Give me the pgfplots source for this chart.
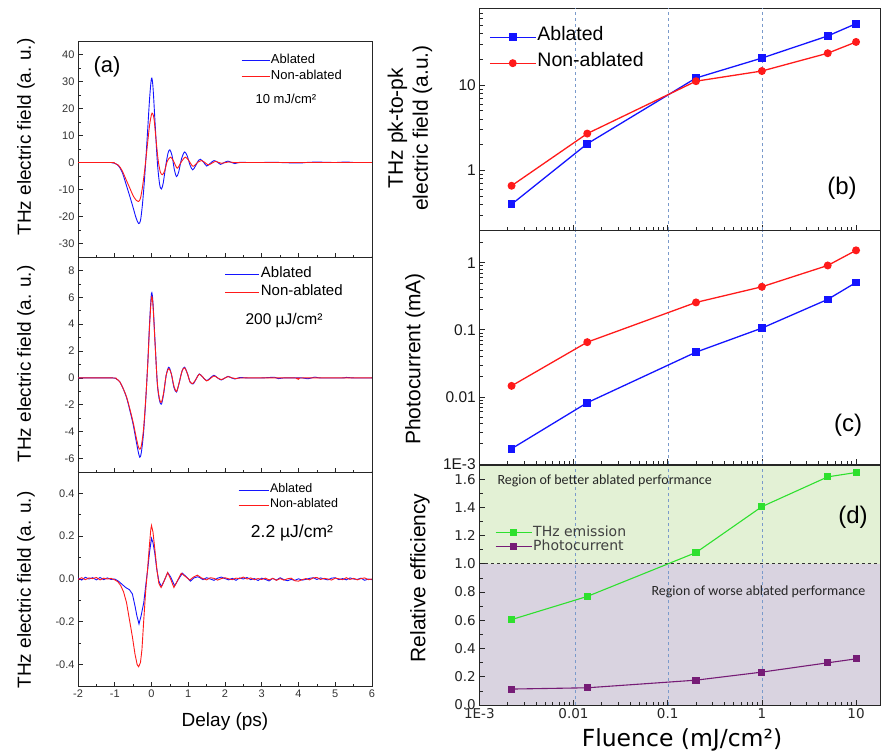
\documentclass[border=0pt]{standalone}
\usepackage{pgfplots}
\pgfplotsset{compat=1.18}
\usepackage{fontspec}
\setmainfont{Liberation Sans}
\newfontfamily\dejavu{DejaVu Sans}
\newfontfamily\carlito{Carlito}
\definecolor{cblue}{HTML}{1414FF}
\definecolor{cred}{HTML}{FF1A1A}
\definecolor{cgreen}{HTML}{2EE02E}
\definecolor{cpurple}{HTML}{761C76}
\definecolor{greenbg}{HTML}{E3F1D5}
\definecolor{purplebg}{HTML}{D9D3E0}
\definecolor{vdash}{HTML}{7A9ACB}
\newcommand\fsz[2]{\fontsize{#1bp}{#2bp}\selectfont}
\pgfplotsset{
  leftax/.style={scale only axis, width=294bp, xmin=-2, xmax=6, xtick={-2,...,6}, minor x tick num=1,
    tick align=inside, tick pos=left, axis line style={black!85, line width=0.8bp},
    major tick length=4.5bp, minor tick length=2.5bp, tick style={black!85, line width=0.7bp},
    tick label style={font=\fsz{11}{13}, text=black!80},
    /pgf/number format/assume math mode=true, legend cell align=left,
    legend style={draw=none, fill=none, inner sep=0pt}},
  rightax/.style={scale only axis, width=400.8bp, xmin=1e-3, xmax=18,
    xtick={0.001,0.01,0.1,1,10},
    minor xtick={0.002,0.003,0.004,0.005,0.006,0.007,0.008,0.009,0.02,0.03,0.04,0.05,0.06,0.07,0.08,0.09,0.2,0.3,0.4,0.5,0.6,0.7,0.8,0.9,2,3,4,5,6,7,8,9},
    tick align=inside, tick pos=left, axis line style={black!85, line width=0.8bp},
    major tick length=5.5bp, minor tick length=3.3bp, tick style={black!85, line width=0.7bp},
    tick label style={font=\fsz{15.5}{18}, text=black!90},
    /pgf/number format/assume math mode=true, legend cell align=left,
    legend style={draw=none, fill=none, inner sep=0pt}},
  nolabx/.style={xticklabel style={inner sep=0pt, outer sep=0pt, font=\fsz{1}{1}}},
  vline/.style={vdash, dashed, line width=0.8bp, forget plot},
  sab/.style={cblue, line width=1.3bp, mark=square*, mark size=3.2bp, mark options={solid}},
  snab/.style={cred, line width=1.3bp, mark=*, mark size=3.3bp, mark options={solid}},
  wb/.style={cblue, line width=0.9bp},
  wr/.style={cred, line width=0.9bp},
}
\begin{document}
\begin{tikzpicture}
\useasboundingbox (0,0) rectangle (881bp,-756bp);
\fill[white] (0,0) rectangle (881bp,-756bp);

% ---------- (a) top: 10 mJ/cm2 ----------
\begin{axis}[leftax, at={(78bp,-257bp)}, anchor=south west, height=216bp,
  ymin=-35, ymax=45, ytick={-30,-20,...,40}, minor y tick num=1, xticklabel={}, nolabx,
  legend style={at={(0.554,0.948)}, anchor=north west, font=\fsz{13}{15},
    nodes={inner sep=1bp, text height=10bp, text depth=4bp}},
  legend image code/.code={\draw[#1] (0bp,0bp) -- (28bp,0bp);}]
\addlegendimage{wb}
\addlegendentry{Ablated}
\addlegendimage{wr}
\addlegendentry{Non-ablated}
\addplot[wb, smooth, forget plot] coordinates {
(-2,0) (-1.5,0) (-1.1,0) (-1.0,-0.3) (-0.9,-1.2) (-0.8,-3.5) (-0.68,-8.6) (-0.58,-13) (-0.5,-16.7)
(-0.42,-20.5) (-0.35,-22.6) (-0.3,-21.5) (-0.25,-16) (-0.2,-8) (-0.15,2) (-0.1,13) (-0.05,24) (0,31.2)
(0.04,28) (0.1,14) (0.16,0) (0.22,-8) (0.27,-9.8) (0.32,-7.5) (0.39,-1) (0.45,3.5) (0.5,4.7) (0.56,2.5)
(0.62,-2.5) (0.68,-5.2) (0.74,-3.5) (0.82,1.5) (0.9,3.9) (0.97,2.5) (1.05,-1) (1.12,-2.7) (1.2,-1.2)
(1.28,0.8) (1.33,1.2) (1.42,0.1) (1.5,-1.3) (1.6,-0.3) (1.7,0.7) (1.8,0.1) (1.88,-0.7) (1.98,0)
(2.08,0.5) (2.18,0) (2.27,-0.4) (2.4,0.1) (2.6,0) (3.0,0) (3.3,0.1) (3.5,0) (4.0,-0.2) (4.2,0)
(4.5,0.15) (5,0) (5.3,0.2) (5.5,0) (6,0)};
\addplot[wr, smooth, forget plot] coordinates {
(-2,0) (-1.1,0) (-1.0,-0.3) (-0.9,-1.0) (-0.8,-3.0) (-0.68,-6.7) (-0.58,-9.8) (-0.5,-12.3) (-0.42,-13.9)
(-0.35,-14.4) (-0.3,-13.2) (-0.25,-9.5) (-0.2,-4.5) (-0.15,1.5) (-0.1,8) (-0.05,14) (0,17.8) (0.03,18.2)
(0.07,16) (0.12,9) (0.18,1) (0.24,-3.5) (0.3,-4.5) (0.36,-3) (0.43,0.5) (0.52,2.0) (0.6,0.5) (0.7,-2.1)
(0.8,0) (0.92,2.0) (1.02,0.6) (1.13,-1.4) (1.25,0) (1.36,0.7) (1.45,0) (1.55,-0.9) (1.65,-0.2)
(1.75,0.4) (1.9,-0.3) (2.1,0.2) (2.3,-0.1) (2.6,0) (6,0)};
\end{axis}

% ---------- (a) middle: 200 uJ/cm2 ----------
\begin{axis}[leftax, at={(78bp,-472bp)}, anchor=south west, height=215bp,
  ymin=-7, ymax=9, ytick={-6,-4,...,8}, minor y tick num=1, xticklabel={}, nolabx,
  legend style={at={(0.497,0.962)}, anchor=north west, font=\fsz{15}{17},
    nodes={inner sep=1bp, text height=11bp, text depth=5bp}},
  legend image code/.code={\draw[#1] (0bp,0bp) -- (34bp,0bp);}]
\addlegendimage{cblue, line width=1.6bp}
\addlegendentry{Ablated}
\addlegendimage{cred, line width=1.6bp}
\addlegendentry{Non-ablated}
\addplot[wb, smooth, forget plot] coordinates {
(-2,0) (-1.5,0) (-1.05,0) (-0.95,-0.08) (-0.86,-0.3) (-0.77,-0.8) (-0.68,-1.45) (-0.59,-2.4) (-0.5,-3.45)
(-0.41,-4.8) (-0.36,-5.5) (-0.32,-5.9) (-0.28,-5.6) (-0.22,-4.2) (-0.16,-1.8) (-0.1,1.2) (-0.05,4.2)
(0,6.3) (0.04,5.6) (0.1,2.5) (0.16,-0.5) (0.22,-1.7) (0.27,-1.95) (0.33,-1.2) (0.4,0.2) (0.47,0.8)
(0.54,0.3) (0.61,-0.7) (0.68,-1.05) (0.75,-0.4) (0.83,0.5) (0.9,0.8) (0.98,0.3) (1.05,-0.3) (1.13,-0.45)
(1.22,-0.05) (1.3,0.3) (1.4,0.05) (1.5,-0.2) (1.6,0) (1.7,0.2) (1.8,0) (1.9,-0.15) (2.0,0) (2.08,0.12)
(2.18,0) (2.27,-0.08) (2.4,0.03) (2.6,0) (3,0) (3.35,0.05) (3.45,-0.05) (3.6,0) (4.1,0) (4.25,-0.06)
(4.45,0.06) (4.6,0) (5.2,0) (5.3,0.04) (5.5,0) (6,0)};
\addplot[wr, smooth, forget plot] coordinates {
(-2,0) (-1.05,0) (-0.95,-0.08) (-0.86,-0.3) (-0.77,-0.8) (-0.68,-1.4) (-0.59,-2.3) (-0.5,-3.3)
(-0.41,-4.5) (-0.36,-5.1) (-0.32,-5.3) (-0.28,-5.1) (-0.22,-3.9) (-0.16,-1.7) (-0.1,1.1) (-0.05,4.0)
(0,6.0) (0.04,5.4) (0.1,2.4) (0.16,-0.4) (0.22,-1.6) (0.27,-1.8) (0.33,-1.1) (0.4,0.2) (0.47,0.7)
(0.54,0.3) (0.61,-0.6) (0.68,-1.0) (0.75,-0.4) (0.83,0.5) (0.9,0.75) (0.98,0.3) (1.05,-0.3) (1.13,-0.4)
(1.22,-0.05) (1.3,0.28) (1.4,0.05) (1.5,-0.22) (1.6,-0.05) (1.7,0.15) (1.8,0) (1.9,-0.12) (2.0,0)
(2.08,0.1) (2.2,0) (2.3,-0.05) (2.5,0) (3.9,0) (4.0,-0.1) (4.1,0) (6,0)};
\end{axis}

% ---------- (a) bottom: 2.2 uJ/cm2 ----------
\begin{axis}[leftax, at={(78bp,-686bp)}, anchor=south west, height=214bp,
  ymin=-0.5, ymax=0.5, ytick={-0.4,-0.2,...,0.41}, minor y tick num=1,
  yticklabel style={/pgf/number format/.cd, fixed, fixed zerofill, precision=1},
  legend style={at={(0.544,0.952)}, anchor=north west, font=\fsz{12.5}{15},
    nodes={inner sep=1bp, text height=9.5bp, text depth=3.5bp}},
  legend image code/.code={\draw[#1] (0bp,0bp) -- (30bp,0bp);}]
\addlegendimage{wb}
\addlegendentry{Ablated}
\addlegendimage{wr}
\addlegendentry{Non-ablated}
\addplot[wb, forget plot] coordinates {
(-2,0.005) (-1.9,-0.005) (-1.8,0.008) (-1.7,0.0) (-1.6,0.006) (-1.5,-0.004) (-1.4,0.007) (-1.3,-0.003)
(-1.2,0.005) (-1.1,-0.002) (-1.0,0.0) (-0.9,-0.01) (-0.8,-0.025) (-0.7,-0.04) (-0.6,-0.05) (-0.52,-0.07)
(-0.45,-0.125) (-0.4,-0.17) (-0.34,-0.21) (-0.28,-0.17) (-0.21,-0.11) (-0.15,-0.02) (-0.1,0.05)
(-0.05,0.13) (0,0.19) (0.04,0.17) (0.09,0.12) (0.14,0.05) (0.2,-0.01) (0.27,-0.035) (0.34,-0.01)
(0.44,0.03) (0.52,0.01) (0.63,-0.032) (0.72,-0.005) (0.84,0.027) (0.95,0.01) (1.06,-0.01) (1.15,0.005)
(1.25,0.01) (1.3,0.008) (1.4,-0.003) (1.5,0.006) (1.6,0.0) (1.7,-0.006) (1.8,0.004) (1.9,0.009)
(2.0,0.002) (2.1,-0.004) (2.2,0.003) (2.3,-0.006) (2.4,0.005) (2.5,0.0) (2.6,0.007) (2.7,-0.003)
(2.8,0.002) (2.9,-0.007) (3.0,0.004) (3.1,-0.002) (3.2,-0.009) (3.3,0.003) (3.4,-0.005) (3.5,0.006)
(3.6,-0.003) (3.7,-0.008) (3.8,-0.002) (3.9,-0.006) (4.0,0.001) (4.1,-0.005) (4.2,-0.002) (4.3,0.003)
(4.4,0.006) (4.5,-0.002) (4.6,0.005) (4.7,0.0) (4.8,-0.004) (4.9,0.004) (5.0,0.006) (5.1,-0.003)
(5.2,0.002) (5.3,-0.004) (5.4,0.005) (5.5,0.0) (5.6,-0.002) (5.7,0.004) (5.8,-0.006) (5.9,0.0) (6.0,-0.003)};
\addplot[wr, forget plot] coordinates {
(-2,-0.002) (-1.9,0.006) (-1.8,-0.003) (-1.7,0.005) (-1.6,0.002) (-1.5,0.007) (-1.4,-0.004) (-1.3,0.004)
(-1.2,0.0) (-1.1,0.003) (-1.0,-0.004) (-0.92,-0.012) (-0.84,-0.03) (-0.76,-0.06) (-0.68,-0.11)
(-0.6,-0.19) (-0.52,-0.27) (-0.45,-0.35) (-0.39,-0.4) (-0.35,-0.41) (-0.3,-0.39) (-0.26,-0.33)
(-0.21,-0.19) (-0.16,-0.06) (-0.11,0.04) (-0.06,0.15) (-0.02,0.23) (0,0.25) (0.04,0.22) (0.09,0.14)
(0.15,0.04) (0.2,-0.02) (0.26,-0.04) (0.33,-0.015) (0.44,0.03) (0.52,0.0) (0.61,-0.04) (0.7,-0.01)
(0.81,0.027) (0.92,0.012) (1.04,-0.005) (1.15,0.01) (1.25,0.018) (1.35,0.006) (1.4,0.002) (1.5,-0.004)
(1.6,0.006) (1.7,0.003) (1.8,-0.005) (1.9,0.002) (2.0,0.006) (2.1,0.001) (2.2,-0.003) (2.3,0.004)
(2.4,0.002) (2.5,0.009) (2.6,0.0) (2.7,0.005) (2.8,-0.003) (2.9,0.002) (3.0,-0.002) (3.1,0.004)
(3.2,-0.004) (3.3,0.003) (3.4,-0.006) (3.5,0.002) (3.6,-0.005) (3.7,0.001) (3.8,0.004) (3.9,-0.008)
(4.0,-0.01) (4.1,-0.003) (4.2,0.002) (4.3,-0.004) (4.4,0.005) (4.5,0.007) (4.6,-0.002) (4.7,0.003)
(4.8,0.0) (4.9,-0.005) (5.0,0.004) (5.1,0.001) (5.2,-0.003) (5.3,0.006) (5.4,-0.002) (5.5,0.003)
(5.6,-0.004) (5.7,0.002) (5.8,0.005) (5.9,-0.003) (6.0,0.0)};
\end{axis}

% ---------- (b) ----------
\begin{loglogaxis}[rightax, at={(479.3bp,-230bp)}, anchor=south west, height=222bp,
  ymin=0.2, ymax=80, ytick={1,10}, yticklabels={1,10}, xticklabels={,,,,}, nolabx,
  minor ytick={0.2,0.3,0.4,0.5,0.6,0.7,0.8,0.9,2,3,4,5,6,7,8,9,20,30,40,50,60,70,80},
  legend style={at={(0.024,0.928)}, anchor=north west, font=\fsz{19.5}{22},
    nodes={inner sep=1bp, text height=15bp, text depth=9bp}},
  legend image code/.code={\draw[mark repeat=2,mark phase=2,#1] plot coordinates {(0bp,0bp) (23bp,0bp) (46bp,0bp)};}]
\addplot[vline] coordinates {(0.0105,0.2) (0.0105,80)};
\addplot[vline] coordinates {(0.103,0.2) (0.103,80)};
\addplot[vline] coordinates {(1.02,0.2) (1.02,80)};
\addplot[sab] coordinates {(0.0022,0.40) (0.014,2.05) (0.2,12.1) (1,20.7) (5,37.6) (10,52.4)};
\addplot[snab] coordinates {(0.0022,0.66) (0.014,2.70) (0.2,11.1) (1,14.6) (5,23.6) (10,32.0)};
\legend{Ablated, Non-ablated}
\end{loglogaxis}

% ---------- (c) ----------
\begin{loglogaxis}[rightax, at={(479.3bp,-464bp)}, anchor=south west, height=233.3bp,
  ymin=1e-3, ymax=3, ytick={0.001,0.01,0.1,1}, yticklabels={1E-3,0.01,0.1,1}, xticklabels={,,,,}, nolabx,
  minor ytick={0.002,0.003,0.004,0.005,0.006,0.007,0.008,0.009,0.02,0.03,0.04,0.05,0.06,0.07,0.08,0.09,0.2,0.3,0.4,0.5,0.6,0.7,0.8,0.9,2,3}]
\addplot[vline] coordinates {(0.0105,1e-3) (0.0105,3)};
\addplot[vline] coordinates {(0.103,1e-3) (0.103,3)};
\addplot[vline] coordinates {(1.02,1e-3) (1.02,3)};
\addplot[sab] coordinates {(0.0022,0.00169) (0.014,0.0082) (0.2,0.0465) (1,0.106) (5,0.284) (10,0.508)};
\addplot[snab] coordinates {(0.0022,0.0146) (0.014,0.0655) (0.2,0.256) (1,0.438) (5,0.91) (10,1.53)};
\end{loglogaxis}

% ---------- (d) ----------
\begin{semilogxaxis}[rightax, axis on top, at={(479.3bp,-705bp)}, anchor=south west, height=240bp,
  ymin=0, ymax=1.7, ytick={0,0.2,...,1.61}, minor y tick num=1,
  xticklabels={1E-3,0.01,0.1,1,10},
  tick label style={font=\dejavu\fsz{13.5}{16}, text=black!85},
  yticklabel style={/pgf/number format/.cd, fixed, fixed zerofill, precision=1},
  legend style={at={(0.039,0.752)}, anchor=north west, font=\dejavu\fsz{14}{16}, text=black!75,
    nodes={inner sep=1bp, text height=10.5bp, text depth=2.2bp}},
  legend image code/.code={\draw[mark repeat=2,mark phase=2,#1] plot coordinates {(0bp,0bp) (18bp,0bp) (36bp,0bp)};}]
\fill[greenbg] (axis cs:0.001,1) rectangle (axis cs:18,1.7);
\fill[purplebg] (axis cs:0.001,0) rectangle (axis cs:18,1);
\draw[black!80, dashed, line width=0.8bp] (axis cs:0.001,1) -- (axis cs:18,1);
\addplot[vline] coordinates {(0.0105,0) (0.0105,1.7)};
\addplot[vline] coordinates {(0.103,0) (0.103,1.7)};
\addplot[vline] coordinates {(1.02,0) (1.02,1.7)};
\addplot[cgreen, line width=1.1bp, mark=square*, mark size=3bp] coordinates {(0.0022,0.605) (0.014,0.769) (0.2,1.08) (1,1.405) (5,1.616) (10,1.647)};
\addplot[cpurple, line width=1.1bp, mark=square*, mark size=3bp] coordinates {(0.0022,0.113) (0.014,0.122) (0.2,0.176) (1,0.233) (5,0.299) (10,0.327)};
\legend{THz emission, Photocurrent}
\end{semilogxaxis}

% ---------- labels ----------
\node[rotate=90, font=\fsz{19}{22}] at (26bp,-137bp) {THz electric field (a. u.)};
\node[rotate=90, font=\fsz{19}{22}] at (26bp,-364bp) {THz electric field (a. u.)};
\node[rotate=90, font=\fsz{19}{22}] at (26bp,-590bp) {THz electric field (a. u.)};
\node[font=\fsz{19}{22}] at (225bp,-722bp) {Delay (ps)};
\node[rotate=90, align=center, font=\fsz{21}{25}] at (410bp,-128bp) {THz pk-to-pk\\electric field (a.u.)};
\node[rotate=90, font=\fsz{21}{25}] at (415bp,-359bp) {Photocurrent (mA)};
\node[rotate=90, font=\fsz{21}{25}] at (420bp,-578bp) {Relative efficiency};
\node[font=\dejavu\fsz{23.5}{27}] at (682bp,-740bp) {Fluence (mJ/cm²)};
\node[font=\fsz{22}{26}] at (107bp,-67bp) {(a)};
\node[font=\fsz{13}{15}] at (286bp,-99bp) {10 mJ/cm²};
\node[font=\fsz{15.5}{18}] at (284bp,-320bp) {200 µJ/cm²};
\node[font=\fsz{17.5}{20}] at (292bp,-533bp) {2.2 µJ/cm²};
\node[font=\fsz{24}{28}] at (842bp,-188bp) {(b)};
\node[font=\fsz{24}{28}] at (848bp,-425bp) {(c)};
\node[font=\fsz{24}{28}] at (853bp,-517bp) {(d)};
\node[font=\carlito\fsz{14}{16}, text=black!85, anchor=west] at (494bp,-481bp) {Region of better ablated performance};
\node[font=\carlito\fsz{14}{16}, text=black!85, anchor=west] at (648bp,-592bp) {Region of worse ablated performance};
\end{tikzpicture}
\end{document}
